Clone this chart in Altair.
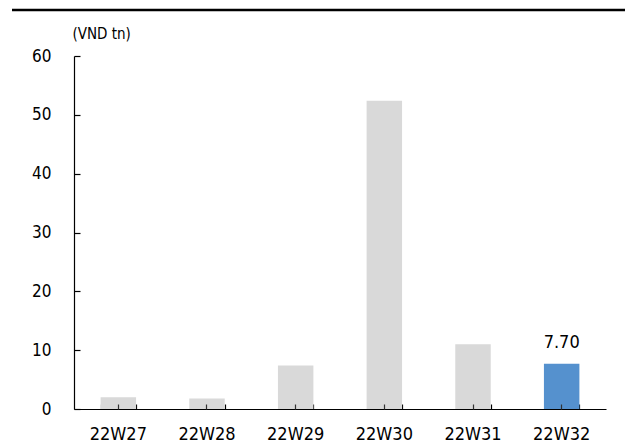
import altair as alt
import pandas as pd

weeks = ["22W27", "22W28", "22W29", "22W30", "22W31", "22W32"]
values = [2.0, 1.8, 7.4, 52.4, 11.0, 7.70]
highlight = [False, False, False, False, False, True]
value_labels = ["", "", "", "", "", "7.70"]

df = pd.DataFrame({"week": weeks, "value": values, "hl": highlight, "lab": value_labels})

FONT = "DejaVu Sans Condensed"

xscale = alt.Scale(paddingInner=0.6, paddingOuter=0.3)
yscale = alt.Scale(domain=[0, 60])

bars = alt.Chart(df).mark_bar().encode(
    x=alt.X("week:N", sort=weeks, scale=xscale,
            axis=alt.Axis(orient="bottom", title=None, ticks=False, tickSize=0, labelPadding=16,
                          labelFontSize=18, labelFont=FONT, labelColor="#000000",
                          domainColor="#000000", domainWidth=1.2, labelAngle=0)),
    y=alt.Y("value:Q", scale=yscale,
            axis=alt.Axis(orient="left", title="(VND tn)", titleAngle=0, titleX=-2, titleY=-23,
                          titleAlign="left", titleBaseline="middle", titleFont=FONT,
                          titleFontSize=15, titleFontWeight="normal", titleColor="#000000",
                          values=[0, 10, 20, 30, 40, 50, 60], ticks=False, tickSize=0,
                          labelPadding=23, labelFontSize=17, labelFont=FONT,
                          labelColor="#000000", grid=False, domainColor="#000000",
                          domainWidth=1.2)),
    color=alt.Color("hl:N", scale=alt.Scale(domain=[False, True], range=["#D9D9D9", "#5591CE"]),
                    legend=None),
)

text = alt.Chart(df).transform_filter("datum.lab != ''").mark_text(
    baseline="alphabetic", dy=-16, fontSize=18, font=FONT, color="#000000"
).encode(
    x=alt.X("week:N", sort=weeks, scale=xscale,
            axis=alt.Axis(orient="bottom", title=None, labels=False, domain=False, ticks=True,
                          tickSize=5, offset=-5, tickBand="extent", tickColor="#000000",
                          tickWidth=1.2)),
    y=alt.Y("value:Q", scale=yscale,
            axis=alt.Axis(orient="left", title=None, labels=False, domain=False, ticks=True,
                          tickSize=6, offset=-6, values=[0, 10, 20, 30, 40, 50, 60], grid=False,
                          tickColor="#000000", tickWidth=1.2)),
    text="lab:N",
)

centers = alt.Chart(df).mark_bar(opacity=0).encode(
    x=alt.X("week:N", sort=weeks, scale=xscale,
            axis=alt.Axis(orient="bottom", title=None, labels=False, domain=False, ticks=True,
                          tickSize=5, offset=-5, tickColor="#333333", tickWidth=1.2, zindex=1)),
    y=alt.Y("value:Q", scale=yscale, axis=None),
)

top_df = pd.DataFrame({"k": [0]})
top_rule = alt.Chart(top_df).mark_rule(color="#000000", strokeWidth=2.5).encode(
    x=alt.value(-62), x2=alt.value(553), y=alt.value(-46)
)

chart = alt.layer(bars, text, centers, top_rule).resolve_axis(
    x="independent", y="independent"
).properties(
    width=532, height=353,
    autosize=alt.AutoSizeParams(type="none"),
    padding={"left": 66, "top": 48, "right": 19, "bottom": 37},
).configure_view(strokeWidth=0)

chart.save("out.html", embed_options={"renderer": "svg", "actions": False})
